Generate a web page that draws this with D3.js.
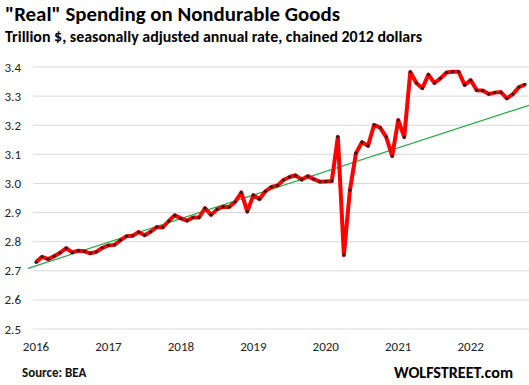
<!DOCTYPE html>
<html>
<head>
<meta charset="utf-8">
<script src="https://cdn.jsdelivr.net/npm/d3@7"></script>
<style>
  body { margin: 0; background: #fff; }
  svg { display: block; font-family: Calibri, Carlito, "Open Sans", "Liberation Sans", sans-serif; }
</style>
</head>
<body>
<div id="chart"></div>
<script>
const width = 529;
const height = 385;

// monthly values, Jan 2016 .. Oct 2022 (trillion $)
const years = ["2016", "2017", "2018", "2019", "2020", "2021", "2022"];
const v2016 = [2.729, 2.748, 2.740, 2.750, 2.762, 2.778, 2.763, 2.769, 2.767, 2.760, 2.765, 2.779];
const v2017 = [2.787, 2.789, 2.805, 2.819, 2.820, 2.833, 2.822, 2.834, 2.850, 2.849, 2.871, 2.891];
const v2018 = [2.880, 2.872, 2.883, 2.883, 2.915, 2.892, 2.911, 2.920, 2.919, 2.937, 2.969, 2.903];
const v2019 = [2.960, 2.946, 2.973, 2.988, 2.993, 3.012, 3.022, 3.028, 3.013, 3.025, 3.015, 3.006];
const v2020 = [3.007, 3.008, 3.160, 2.754, 2.977, 3.104, 3.142, 3.129, 3.201, 3.192, 3.160, 3.094];
const v2021 = [3.218, 3.159, 3.383, 3.345, 3.327, 3.374, 3.345, 3.361, 3.381, 3.384, 3.384, 3.338];
const v2022 = [3.355, 3.320, 3.319, 3.307, 3.312, 3.314, 3.292, 3.307, 3.331, 3.340];

// linear trend: value at first month and at last month
const trendStart = 2.717;
const trendEnd = 3.264;

const yTicks = [2.5, 2.6, 2.7, 2.8, 2.9, 3.0, 3.1, 3.2, 3.3, 3.4];

const values = [].concat(v2016, v2017, v2018, v2019, v2020, v2021, v2022);
const data = values.map((v, i) => ({ i: i, v: v }));
const last = data.length - 1;

const svg = d3.select("#chart")
              .append("svg")
              .attr("width", width)
              .attr("height", height);

const x = d3.scaleLinear().domain([0, last]).range([36, 525]);
const y = d3.scaleLinear().domain([2.5, 3.4]).range([329, 67]);

// titles
svg.append("text")
   .attr("x", 5).attr("y", 21)
   .attr("font-size", 20).attr("font-weight", "bold")
   .attr("textLength", 335).attr("lengthAdjust", "spacingAndGlyphs")
   .text("\"Real\" Spending on Nondurable Goods");

svg.append("text")
   .attr("x", 5).attr("y", 42)
   .attr("font-size", 15).attr("font-weight", "bold")
   .attr("textLength", 417).attr("lengthAdjust", "spacingAndGlyphs")
   .text("Trillion $, seasonally adjusted annual rate, chained 2012 dollars");

// gridlines + y labels
const grid = svg.append("g");
grid.selectAll("line")
    .data(yTicks)
    .enter()
    .append("line")
    .attr("x1", 33).attr("x2", width)
    .attr("y1", d => y(d)).attr("y2", d => y(d))
    .attr("stroke", "#d9d9d9")
    .attr("stroke-width", 1);

grid.selectAll("text")
    .data(yTicks)
    .enter()
    .append("text")
    .attr("x", 21)
    .attr("y", d => y(d))
    .attr("dy", "0.35em")
    .attr("text-anchor", "end")
    .attr("font-size", 13)
    .attr("fill", "#222")
    .text(d => d.toFixed(1));

// x labels at each January
svg.append("g").selectAll("text")
   .data(years)
   .enter()
   .append("text")
   .attr("x", (d, k) => x(k * 12))
   .attr("y", 351)
   .attr("text-anchor", "middle")
   .attr("font-size", 13)
   .attr("fill", "#222")
   .text(d => d);

// trend line, extended across the plot
const slope = (trendEnd - trendStart) / last;
const tx0 = x.invert(28), tx1 = x.invert(width);
svg.append("line")
   .attr("x1", x(tx0)).attr("y1", y(trendStart + slope * tx0))
   .attr("x2", x(tx1)).attr("y2", y(trendStart + slope * tx1))
   .attr("stroke", "#22a845")
   .attr("stroke-width", 1.2);

// data line
const line = d3.line().x(d => x(d.i)).y(d => y(d.v));
svg.append("path")
   .datum(data)
   .attr("d", line)
   .attr("fill", "none")
   .attr("stroke", "#ff0000")
   .attr("stroke-width", 4)
   .attr("stroke-linejoin", "round");

svg.append("g").selectAll("circle")
   .data(data)
   .enter()
   .append("circle")
   .attr("cx", d => x(d.i))
   .attr("cy", d => y(d.v))
   .attr("r", 1.6)
   .attr("fill", "#222");

// footer
svg.append("text")
   .attr("x", 22).attr("y", 377)
   .attr("font-size", 13).attr("font-weight", "bold")
   .attr("fill", "#111")
   .text("Source: BEA");

svg.append("text")
   .attr("x", 394).attr("y", 378)
   .attr("font-size", 16).attr("font-weight", "bold")
   .attr("textLength", 119).attr("lengthAdjust", "spacingAndGlyphs")
   .text("WOLFSTREET.com");
</script>
</body>
</html>
